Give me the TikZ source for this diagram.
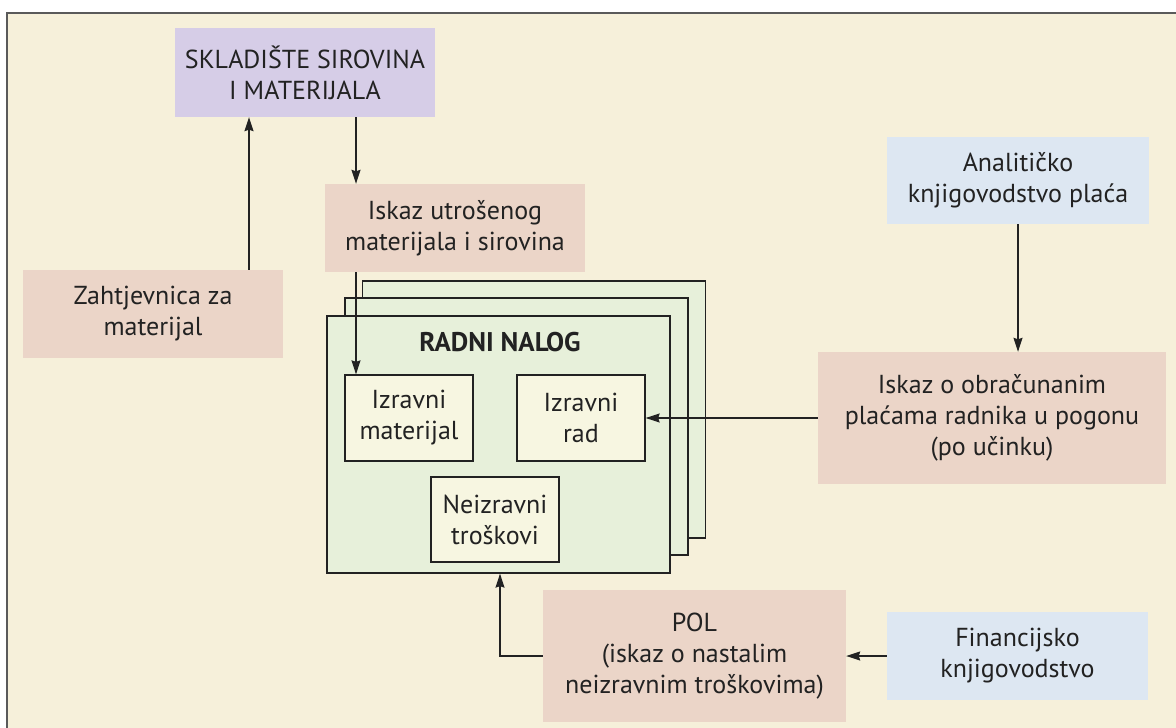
\documentclass[tikz,border=0pt]{standalone}
\usepackage{fontspec}
\setmainfont{PT Sans}
\usetikzlibrary{arrows.meta,calc}
\definecolor{bgcream}{HTML}{F6F0DA}
\definecolor{lav}{HTML}{D6CDE7}
\definecolor{pinkb}{HTML}{EBD5C8}
\definecolor{blueb}{HTML}{DDE7F2}
\definecolor{greenb}{HTML}{E7F0DA}
\definecolor{innerb}{HTML}{F7F6E1}
\definecolor{linec}{HTML}{222222}
\definecolor{framec}{HTML}{5A5A5A}
\tikzset{
  txt/.style={font=\fontsize{26}{31}\selectfont,text=linec},
  box/.style={draw=none,align=center,inner sep=0pt,txt},
  sheet/.style={draw=linec,line width=1.3pt,fill=greenb,minimum width=343pt,minimum height=257pt,inner sep=0pt},
  inner/.style={draw=linec,line width=1.3pt,fill=innerb,minimum width=128pt,minimum height=86pt,align=center,inner sep=0pt,txt},
  arr/.style={draw=linec,line width=1.2pt,-{Stealth[length=14pt,width=9pt,inset=1.5pt]}}
}
\begin{document}
\begin{tikzpicture}[x=1pt,y=-1pt]
\clip (0,0) rectangle (1176,728);
\fill[white] (0,0) rectangle (1176,728);
\draw[draw=framec,line width=2pt,fill=bgcream] (7,13) rectangle (1200,760);
% helper coordinates
\coordinate (cx1) at (249,0);
\coordinate (cx2) at (356,0);
\coordinate (cx5) at (500,0);
% boxes
\node[box,fill=lav,minimum width=260pt,minimum height=89pt] (skl) at (305,72.5) {SKLADIŠTE SIROVINA\\I MATERIJALA};
\node[box,fill=pinkb,minimum width=260pt,minimum height=88pt] (isk) at (455,228) {Iskaz utrošenog\\materijala i sirovina};
\node[box,fill=pinkb,minimum width=260pt,minimum height=88pt] (zah) at (153,314) {Zahtjevnica za\\materijal};
\node[box,fill=blueb,minimum width=262pt,minimum height=87pt] (ana) at (1018,180.5) {Analitičko\\knjigovodstvo plaća};
\node[box,fill=pinkb,minimum width=348pt,minimum height=132pt] (obr) at (992,418) {Iskaz o obračunanim\\plaćama radnika u pogonu\\(po učinku)};
\node[box,fill=pinkb,minimum width=303pt,minimum height=132pt] (pol) at (694.5,656) {POL\\(iskaz o nastalim\\neizravnim troškovima)};
\node[box,fill=blueb,minimum width=261pt,minimum height=88pt] (fin) at (1017.5,656) {Financijsko\\knjigovodstvo};
% stacked sheets
\node[sheet] (back) at (534,409.5) {};
\node[sheet] (mid) at (516.5,426.5) {};
\node[sheet] (front) at (498.5,444.5) {};
\node[font=\fontsize{27}{31}\selectfont\bfseries,text=linec] (rn) at (500,342) {RADNI NALOG};
\node[inner] (im) at (409,418) {Izravni\\materijal};
\node[inner] (ir) at (581,418) {Izravni\\rad};
\node[inner,minimum height=85pt] (nt) at (495,519.5) {Neizravni\\troškovi};
% connectors
\draw[arr] (zah.north -| cx1) -- (skl.south -| cx1);
\draw[arr] (skl.south -| cx2) -- (isk.north -| cx2);
\draw[arr] (isk.south -| cx2) -- (im.north -| cx2);
\draw[arr] (ana.south) -- (ana.south |- obr.north);
\draw[arr] (obr.west) -- (ir.east);
\draw[arr] (fin.west) -- (pol.east);
\draw[arr] (pol.west) -| (front.south -| cx5);
\end{tikzpicture}
\end{document}
